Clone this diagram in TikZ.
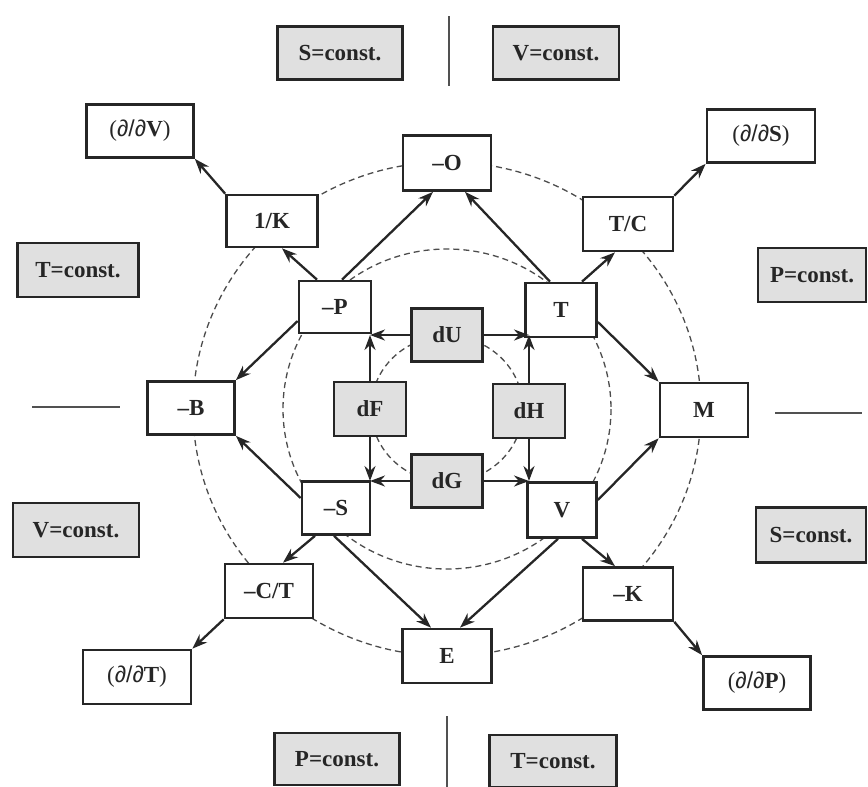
\documentclass[tikz,border=0pt]{standalone}
\usepackage{fontspec}
\setmainfont{Liberation Serif}
\setsansfont{Liberation Sans}
\usetikzlibrary{arrows.meta,calc}
\definecolor{boxgray}{HTML}{E0E0E0}
\definecolor{ink}{HTML}{262626}
\newcommand{\dd}[1]{{\mdseries(}{\sffamily\mdseries ∂/∂}{\bfseries #1}{\mdseries)}}
\begin{document}
\begin{tikzpicture}[x=1pt,y=-1pt,
  wbox/.style={draw=ink, line width=2.7pt, fill=white, inner sep=0pt,
    font=\fontsize{23}{27}\selectfont\bfseries, text=ink},
  gbox/.style={wbox, fill=boxgray},
  arr/.style={-{Stealth[length=15pt,width=11pt]}, line width=2.3pt, draw=ink},
  circ/.style={draw=black!70, line width=1.3pt, dash pattern=on 6pt off 4pt},
  sep/.style={draw=ink!80, line width=1.8pt}]
\useasboundingbox (0,0) rectangle (868,787);

% dashed circles
\draw[circ] (447,409) ellipse [x radius=254, y radius=247];
\draw[circ] (447,409) ellipse [x radius=164, y radius=160];
\draw[circ] (447,409) ellipse [x radius=76, y radius=73];

% separator lines
\coordinate (lt1) at (449,16); \coordinate (lt2) at (449,86);
\coordinate (lb1) at (447,716); \coordinate (lb2) at (447,787);
\coordinate (ll1) at (32,407); \coordinate (ll2) at (120,407);
\coordinate (lr1) at (775,413); \coordinate (lr2) at (862,413);
\draw[sep] (lt1) -- (lt2);
\draw[sep] (lb1) -- (lb2);
\draw[sep] (ll1) -- (ll2);
\draw[sep] (lr1) -- (lr2);

% constant boxes
\node[gbox, minimum width=125pt, minimum height=53pt] (cS1) at (340,53) {S=const.};
\node[gbox, minimum width=126pt, minimum height=53pt] (cV1) at (556,53) {V=const.};
\node[gbox, minimum width=121pt, minimum height=54pt] (cT1) at (78,270) {T=const.};
\node[gbox, minimum width=108pt, minimum height=54pt] (cP1) at (812,275) {P=const.};
\node[gbox, minimum width=126pt, minimum height=54pt] (cV2) at (76,530) {V=const.};
\node[gbox, minimum width=110pt, minimum height=55pt] (cS2) at (811,535) {S=const.};
\node[gbox, minimum width=125pt, minimum height=52pt] (cP2) at (337,759) {P=const.};
\node[gbox, minimum width=127pt, minimum height=52pt] (cT2) at (553,761) {T=const.};

% outer ring
\node[wbox, minimum width=107pt, minimum height=53pt] (dV) at (140,131) {\dd{V}};
\node[wbox, minimum width=91pt, minimum height=52pt] (K1) at (272,221) {1/K};
\node[wbox, minimum width=90pt, minimum height=54pt] (TC) at (628,224) {T/C};
\node[wbox, minimum width=108pt, minimum height=53pt] (dS) at (761,136) {\dd{S}};
\node[wbox, minimum width=88pt, minimum height=55pt] (O) at (447,163) {–O};
\node[wbox, minimum width=87pt, minimum height=53pt] (B) at (191,408) {–B};
\node[wbox, minimum width=88pt, minimum height=54pt] (M) at (704,410) {M};
\node[wbox, minimum width=88pt, minimum height=54pt] (CT) at (269,591) {–C/T};
\node[wbox, minimum width=108pt, minimum height=54pt] (dT) at (137,677) {\dd{T}};
\node[wbox, minimum width=90pt, minimum height=53pt] (K) at (628,594) {–K};
\node[wbox, minimum width=107pt, minimum height=53pt] (dP) at (757,683) {\dd{P}};
\node[wbox, minimum width=89pt, minimum height=54pt] (E) at (447,656) {E};

% variables
\node[wbox, minimum width=72pt, minimum height=52pt] (P) at (335,307) {–P};
\node[wbox, minimum width=71pt, minimum height=54pt] (T) at (561,310) {T};
\node[wbox, minimum width=68pt, minimum height=53pt] (S) at (336,508) {–S};
\node[wbox, minimum width=69pt, minimum height=55pt] (V) at (562,510) {V};

% potentials
\node[gbox, minimum width=71pt, minimum height=53pt] (dU) at (447,335) {dU};
\node[gbox, minimum width=72pt, minimum height=54pt] (dF) at (370,409) {dF};
\node[gbox, minimum width=72pt, minimum height=54pt] (dH) at (529,411) {dH};
\node[gbox, minimum width=71pt, minimum height=53pt] (dG) at (447,481) {dG};

% inner arrows
\draw[arr] (dU.west) -- (dU.west -| dF.north);
\draw[arr] (dU.east) -- (dU.east -| dH.north);
\draw[arr] (dF.north) -- (dF.north |- dU.west);
\draw[arr] (dF.south) -- (dF.south |- dG.west);
\draw[arr] (dG.west) -- (dG.west -| dF.south);
\draw[arr] (dG.east) -- (dG.east -| dH.south);
\draw[arr] (dH.north) -- (dH.north |- dU.east);
\draw[arr] (dH.south) -- (dH.south |- dG.east);

% outer arrows
\draw[arr] ([xshift=7pt]P.north) -- ([xshift=-14pt]O.south);
\draw[arr] ([xshift=-11pt]T.north) -- ([xshift=18pt]O.south);
\draw[arr] ([xshift=-18pt]P.north) -- ([xshift=10pt]K1.south);
\draw[arr] (K1.north west) -- (dV.south east);
\draw[arr] ([xshift=21pt]T.north) -- ([xshift=-13pt]TC.south);
\draw[arr] (TC.north east) -- (dS.south west);
\draw[arr] ([yshift=-14pt]P.west) -- (B.north east);
\draw[arr] ([yshift=10pt]S.west) -- (B.south east);
\draw[arr] ([yshift=-12pt]T.east) -- (M.north west);
\draw[arr] ([yshift=10pt]V.east) -- (M.south west);
\draw[arr] ([xshift=-21pt]S.south) -- ([xshift=14pt]CT.north);
\draw[arr] (CT.south west) -- (dT.north east);
\draw[arr] ([xshift=-2pt]S.south) -- ([xshift=-16pt]E.north);
\draw[arr] ([xshift=-4pt]V.south) -- ([xshift=13pt]E.north);
\draw[arr] ([xshift=20pt]V.south) -- ([xshift=-13pt]K.north);
\draw[arr] (K.south east) -- (dP.north west);
\end{tikzpicture}
\end{document}
